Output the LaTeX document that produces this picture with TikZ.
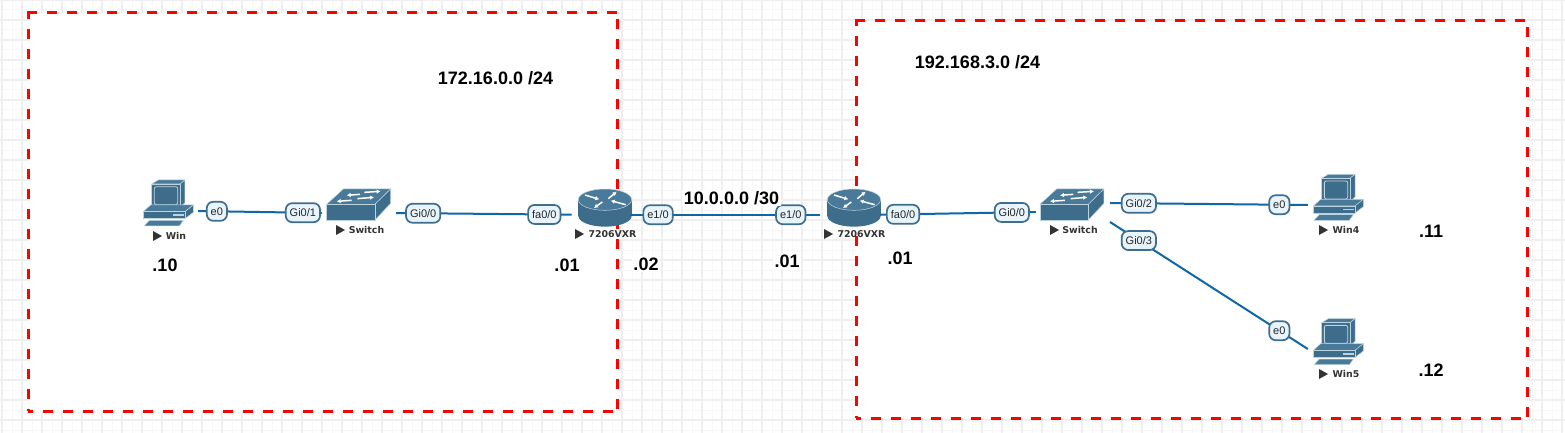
\documentclass[tikz,border=0pt]{standalone}
\usepackage{fontspec}
\setmainfont{Liberation Sans}
\newfontfamily\devfont{DejaVu Sans}
\usetikzlibrary{arrows.meta}
\definecolor{icon}{HTML}{3E6D8C}
\definecolor{icontop}{HTML}{4A7A99}
\definecolor{iconedge}{HTML}{BCD3E0}
\definecolor{linkblue}{HTML}{0F67A8}
\definecolor{portfill}{HTML}{E8F4FC}
\definecolor{portedge}{HTML}{3F6D8E}
\definecolor{gridmajor}{HTML}{EFEFEF}
\definecolor{gridminor}{HTML}{F7F7F7}
\definecolor{namecol}{HTML}{333333}
\tikzset{
  link/.style={draw=linkblue,line width=2pt},
  port/.style={draw=portedge,fill=portfill,line width=1.7pt,rounded corners=6.5pt,inner xsep=4pt,inner ysep=0pt,minimum height=19pt,minimum width=20pt,text=black!85,font=\fontsize{11}{11}\selectfont},
  devbox/.style={inner sep=0pt,minimum height=20pt},
  devname/.style={inner sep=0pt,text=namecol,font=\devfont\bfseries\fontsize{9.4}{9.4}\selectfont},
  bigtext/.style={fill=white,inner sep=1.5pt,text=black,font=\bfseries\fontsize{18}{18}\selectfont},
  redline/.style={draw=red,line width=3pt,dash pattern=on 10pt off 10pt},
  face/.style={fill=icon,draw=iconedge,line width=0.5pt,line join=round},
  topface/.style={fill=icontop,draw=iconedge,line width=0.5pt,line join=round},
  wharrow/.style={draw=white,line width=1.5pt,-{Latex[length=4pt,width=4.5pt]}},
  pics/nametri/.style={code={\fill[namecol] (0,-5) -- (9,0) -- (0,5) -- cycle;}},
  pics/pcicon/.style={code={
    \begin{scope}[x=0.3333pt,y=-0.3333pt]
      \path[topface] (65,42) -- (85,30) -- (165,30) -- (150,42) -- cycle;
      \path[face] (150,42) -- (165,30) -- (165,98) -- (150,112) -- cycle;
      \path[face] (65,42) rectangle (150,112);
      \draw[iconedge,line width=0.8pt,rounded corners=2pt] (73,50) rectangle (143,104);
      \path[topface] (40,125) -- (62,105) -- (190,105) -- (165,125) -- cycle;
      \path[face] (165,125) -- (190,105) -- (190,127) -- (165,146) -- cycle;
      \path[face] (40,125) rectangle (165,146);
      \fill[iconedge] (130,133) rectangle (162,138);
      \path[topface] (58,151) -- (160,151) -- (148,168) -- (42,168) -- cycle;
    \end{scope}}},
  pics/swicon/.style={code={
    \begin{scope}[x=0.3333pt,y=-0.3333pt]
      \path[topface] (590,103) -- (640,57) -- (782,57) -- (735,103) -- cycle;
      \path[face] (735,103) -- (782,57) -- (782,100) -- (735,150) -- cycle;
      \path[face] (590,103) rectangle (735,150);
      \draw[wharrow] (690,73) -- (650,76);
      \draw[wharrow] (703,67) -- (752,64);
      \draw[wharrow] (665,91) -- (620,94);
      \draw[wharrow] (682,86) -- (732,82);
    \end{scope}}},
  pics/rticon/.style={code={
    \begin{scope}[x=0.3333pt,y=-0.3333pt]
      \fill[icon] (255,138) ellipse[x radius=80,y radius=32];
      \fill[icon] (175,89) rectangle (335,138);
      \path[topface] (255,89) ellipse[x radius=80,y radius=32];
      \draw[wharrow] (195,75) -- (238,88);
      \draw[wharrow] (265,86) -- (290,65);
      \draw[wharrow] (247,96) -- (222,114);
      \draw[wharrow] (317,104) -- (272,92);
    \end{scope}}}
}
\begin{document}
\begin{tikzpicture}[x=1pt,y=-1pt]
\useasboundingbox (0,0) rectangle (1565,433);
% canvas grid
\fill[white] (0,0) rectangle (1565,433);
\foreach \g in {12,32,...,1565} \draw[gridminor,line width=1pt] (\g,0) -- (\g,433);
\foreach \g in {10,30,...,433} \draw[gridminor,line width=1pt] (0,\g) -- (1565,\g);
\foreach \g in {2,22,...,1565} \draw[gridmajor,line width=1.2pt] (\g,0) -- (\g,433);
\foreach \g in {0,20,...,433} \draw[gridmajor,line width=1.2pt] (0,\g) -- (1565,\g);
% network boxes
\fill[white] (28,13) rectangle (618,411);
\fill[white] (856,21) rectangle (1527,418);
\draw[redline] (27,12.5) -- (618,12.5);
\draw[redline] (617.6,19) -- (617.6,411);
\draw[redline,dash phase=5pt] (28,411.5) -- (618,411.5);
\draw[redline,dash phase=4pt] (28,13) -- (28,411);
\draw[redline] (855,21) -- (1528,21);
\draw[redline] (1527,27) -- (1527,418);
\draw[redline,dash phase=5pt] (856,418) -- (1527,418);
\draw[redline,dash phase=5pt] (856.5,21) -- (856.5,418);
% devices
\node[devbox,minimum width=62pt] (win) at (167,211) {};
\node[devbox,minimum width=74pt] (swa) at (359,213) {};
\node[devbox,minimum width=58.3pt] (rta) at (600.85,214.7) {};
\node[devbox,minimum width=60pt] (rtb) at (850,214.7) {};
\node[devbox,minimum width=74pt] (swb) at (1073,212) {};
\node[devbox,minimum width=62pt] (winf) at (1339,205) {};
\node[devbox,minimum width=62pt] (wing) at (1339,349) {};
\coordinate (swbup) at (1110,203);
\coordinate (swbdn) at (1110,222);
\pic at (130,170) {pcicon};
\pic at (1300,164.3) {pcicon};
\pic at (1300,308.7) {pcicon};
\pic at (130,170) {swicon};
\pic at (843.3,170) {swicon};
\pic at (520,170) {rticon};
\pic at (769,170) {rticon};
% links and port labels
\draw[link] (win.east) -- node[port,pos=.151] (pa) {e0} node[port,pos=.847] (pb) {Gi0/1} (swa.west);
\draw[link] (swa.east) -- node[port,pos=.154] (pc) {Gi0/0} node[port,pos=.845] (pd) {fa0/0} (rta.west);
\draw[link] (rta.east) -- node[port,pos=.147] (pe) {e1/0} node[port,pos=.847] (pf) {e1/0} (rtb.west);
\draw[link] (rtb.east) -- node[port,pos=.147] (pg) {fa0/0} node[port,pos=.846] (ph) {Gi0/0} (swb.west);
\draw[link] (swbup) -- node[port,pos=.146] (pi) {Gi0/2} node[port,pos=.856] (pj) {e0} (winf.west);
\draw[link] (swbdn) -- node[port,pos=.146] (pk) {Gi0/3} node[port,pos=.856] (pl) {e0} (wing.west);
% device names
\pic at (153,236) {nametri};
\node[devname] (nwin) at (176,236) {Win};
\pic at (336,230) {nametri};
\node[devname] (nswa) at (366.5,230) {Switch};
\pic at (575,234) {nametri};
\node[devname] (nrta) at (612.5,234) {7206VXR};
\pic at (824,234) {nametri};
\node[devname] (nrtb) at (861.5,234) {7206VXR};
\pic at (1050,230) {nametri};
\node[devname] (nswb) at (1080,230) {Switch};
\pic at (1319,230) {nametri};
\node[devname] (nwinf) at (1346,230) {Win4};
\pic at (1319,374) {nametri};
\node[devname] (nwing) at (1346,374) {Win5};
% addressing text
\node[bigtext] (neta) at (495.5,78) {172.16.0.0 /24};
\node[bigtext] (netb) at (977.5,62) {192.168.3.0 /24};
\node[bigtext] (netc) at (731.5,198) {10.0.0.0 /30};
\node[bigtext] (ha) at (165,265) {.10};
\node[bigtext] (hb) at (567,265) {.01};
\node[bigtext] (hc) at (646,264) {.02};
\node[bigtext] (hd) at (787,261) {.01};
\node[bigtext] (he) at (900,258) {.01};
\node[bigtext] (hf) at (1431,231) {.11};
\node[bigtext] (hg) at (1431,370) {.12};
\end{tikzpicture}
\end{document}
